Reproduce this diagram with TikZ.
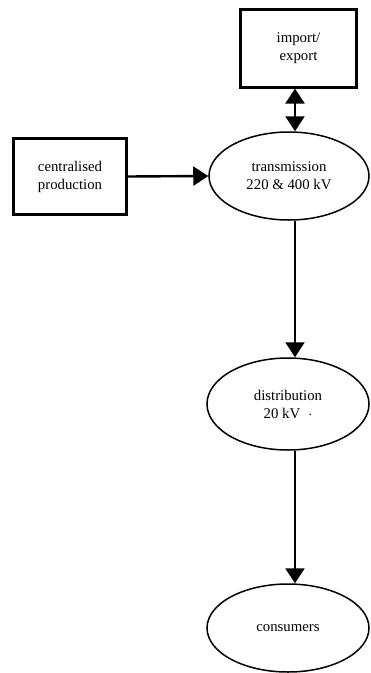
\documentclass[tikz,border=0pt]{standalone}
\usepackage{fontspec}
\setmainfont{Liberation Serif}
\usetikzlibrary{arrows.meta,shapes.geometric}
\tikzset{
  box/.style={draw, line width=2.2pt, minimum width=115pt, minimum height=78pt, align=center, inner sep=0pt},
  ell/.style={draw, ellipse, line width=1.5pt, inner sep=0pt, align=center},
  arr/.style={line width=2.4pt, -{Triangle[width=19pt,length=15pt]}},
  darr/.style={line width=2.4pt, {Triangle[width=19pt,length=15pt]}-{Triangle[width=19pt,length=15pt]}},
  lbl/.style={font=\fontsize{14.8}{18}\selectfont}
}
\begin{document}
\begin{tikzpicture}[x=1pt,y=-1pt]
\useasboundingbox (0,0) rectangle (371,673);
\node[box, lbl, minimum width=116pt, minimum height=78pt] (imp) at (298.5,48.5) {import/\\export};
\node[box, lbl, minimum width=113pt, minimum height=76pt] (cen) at (70,176.5) {centralised\\production};
\node[ell, lbl, minimum width=160pt, minimum height=88pt] (trans) at (289,176) {transmission\\220 \& 400 kV};
\node[ell, lbl, minimum width=162pt, minimum height=92pt] (dist) at (288,404) {distribution\\20 kV\hspace{8pt}$\cdot$};
\node[ell, lbl, minimum width=162pt, minimum height=88pt] (cons) at (288,628) {consumers};
\coordinate (col) at (295,0);
\draw[darr] (imp.south -| col) -- (trans.north -| col);
\draw[arr] (cen.east) -- (trans.west);
\draw[arr] (trans.south -| col) -- (dist.north -| col);
\draw[arr] (dist.south -| col) -- (cons.north -| col);
\end{tikzpicture}
\end{document}
